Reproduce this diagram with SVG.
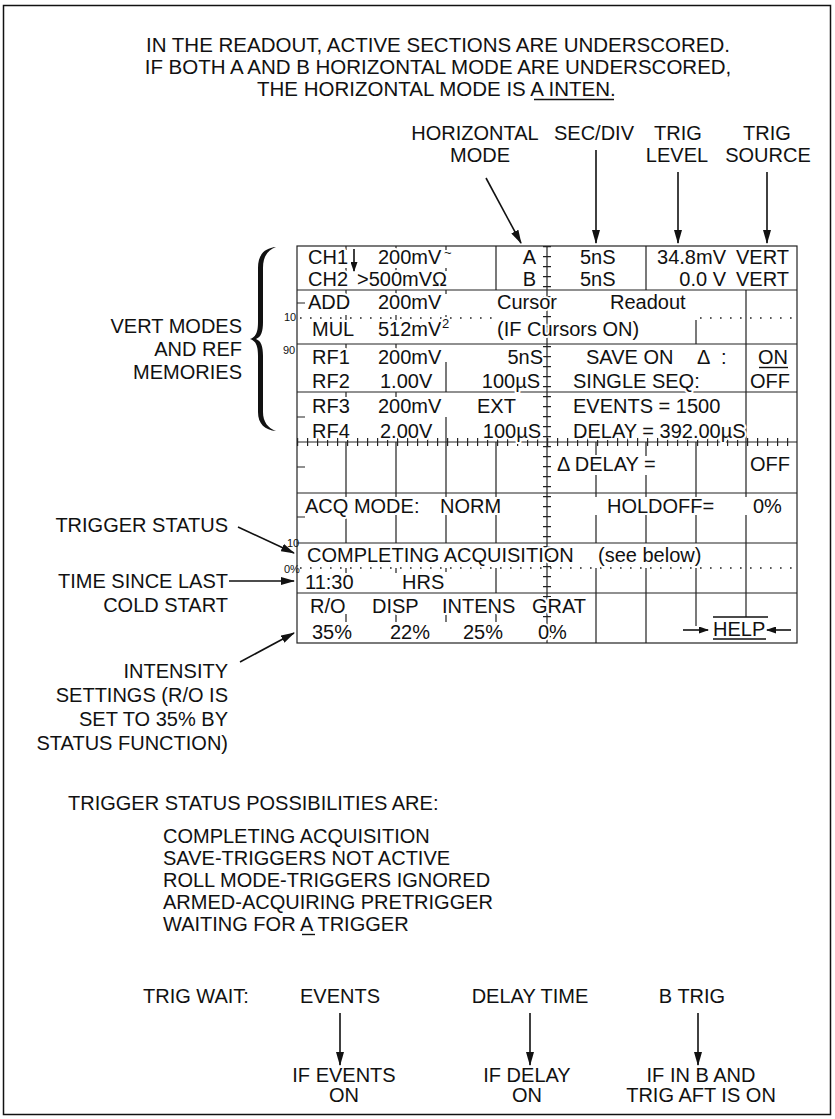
<svg xmlns="http://www.w3.org/2000/svg" width="835" height="1119" viewBox="0 0 835 1119">
<style>
text { font-family: "Liberation Sans", Arial, sans-serif; font-size: 20px; fill: #111; }
.t { font-size: 20.5px; }
.g { paint-order: stroke; stroke: #fff; stroke-width: 4px; stroke-linejoin: round; }
.sm { font-size: 11px; }
.sup { font-size: 13px; }
.e { text-anchor: end; }
.m { text-anchor: middle; }
.ln { stroke: #111; stroke-width: 1.4; fill: none; }
.gr { stroke: #222; stroke-width: 1.2; fill: none; }
.tk { stroke: #222; stroke-width: 8; stroke-dasharray: 1.2 8.8; fill: none; }
.dot { stroke: #222; stroke-width: 1.6; stroke-dasharray: 1.6 8.4; fill: none; }
.arr { stroke: #111; stroke-width: 1.6; fill: none; marker-end: url(#ah); }
.arrs { stroke: #111; stroke-width: 1.6; fill: none; marker-end: url(#ahs); }
</style>
<defs>
<marker id="ah" markerWidth="14" markerHeight="8" refX="13" refY="4" orient="auto" markerUnits="userSpaceOnUse"><path d="M0,0 L14,4 L0,8 Z" fill="#111"/></marker>
<marker id="ahs" markerWidth="10" markerHeight="7" refX="9" refY="3.5" orient="auto" markerUnits="userSpaceOnUse"><path d="M0,0 L10,3.5 L0,7 Z" fill="#111"/></marker>
</defs>
<rect x="0" y="0" width="835" height="1119" fill="#fff"/>
<rect id="frame" x="3.5" y="5.5" width="827" height="1109" fill="none" stroke="#111" stroke-width="1.5"/>

<g id="title">
<text class="m t" x="438" y="52">IN THE READOUT, ACTIVE SECTIONS ARE UNDERSCORED.</text>
<text class="m t" x="438" y="74">IF BOTH A AND B HORIZONTAL MODE ARE UNDERSCORED,</text>
<text class="t" x="257" y="96">THE HORIZONTAL MODE IS A INTEN.</text>
<path class="ln" d="M534 99.5 H614"/>
</g>

<g id="label-horizontal-mode"><text class="m" x="475" y="140">HORIZONTAL</text><text class="m" x="480" y="162">MODE</text></g>
<g id="label-sec-div"><text class="m" x="594" y="140">SEC/DIV</text></g>
<g id="label-trig-level"><text class="m" x="678" y="140">TRIG</text><text class="m" x="677" y="162">LEVEL</text></g>
<g id="label-trig-source"><text class="m" x="767" y="140">TRIG</text><text class="m" x="768" y="162">SOURCE</text></g>

<g id="label-vert-modes">
<text class="e" x="242" y="333">VERT MODES</text>
<text class="e" x="242" y="356">AND REF</text>
<text class="e" x="242" y="379">MEMORIES</text>
<path d="M 276 247 C 265 248, 258 254, 258 268 L 258 322 C 258 332, 256 337, 250 339 C 256 341, 258 346, 258 356 L 258 412 C 258 424, 265 430, 276 431 C 268 428, 263 422, 263 412 L 263 356 C 263 346, 261 341, 256 339 C 261 337, 263 332, 263 322 L 263 268 C 263 256, 268 250, 276 247 Z" fill="#111"/>
</g>

<g id="graticule">
<rect x="297" y="246" width="500" height="397" class="gr"/>
<path class="gr" d="M297 290 H797 M297 344 H797 M297 392 H797 M297 493 H797 M297 543 H797 M297 593 H797 M297 442 H797 M547 246 V643"/>
<line class="tk" x1="547" y1="246" x2="547" y2="643"/>
<line class="tk" x1="297" y1="442" x2="797" y2="442"/>
<path class="gr" d="M346 246 V250 M346 268 V271 M346 290 V294 M346 315 V321 M346 344 V349 M346 392 V397 M346 442 V497 M346 515 V543 M346 568 V573 M346 614 V622
M396 246 V250 M396 268 V271 M396 290 V294 M396 315 V321 M396 344 V349 M396 392 V397 M396 442 V497 M396 515 V543 M396 568 V573 M396 614 V622
M446 246 V250 M446 268 V271 M446 290 V294 M446 315 V321 M446 362 V392 M446 417 V497 M446 515 V543 M446 568 V572 M446 614 V622
M496 246 V290 M496 442 V497 M496 515 V543 M496 568 V593 M496 614 V622
M596 442 V456 M596 475 V497 M596 515 V543 M596 568 V643
M646 246 V290 M646 442 V456 M646 475 V497 M646 515 V543 M646 568 V643
M696 320 V344 M696 442 V497 M696 515 V543 M696 568 V626
M746 290 V497 M746 515 V617
M297 303 H305 M297 417 H305 M297 467 H305 M297 517 H305"/>
<path class="dot" d="M300 318 H492 M700 318 H792 M300 568 H794"/>
<text class="sm" x="284" y="321">10</text>
<text class="sm" x="283" y="354">90</text>
<text class="sm" x="287" y="547">10</text>
<text class="sm" x="284" y="573">0%</text>
</g>

<g id="readout">
<text class="g" x="308" y="264">CH1</text>
<path class="arrs" d="M354 249 V271"/>
<text class="g" x="378" y="264">200mV</text>
<text class="g sup" x="444" y="257">~</text>
<text class="g e" x="536" y="264">A</text>
<text class="g" x="580" y="264">5nS</text>
<text class="g e" x="726" y="264">34.8mV</text>
<text class="g" x="736" y="264">VERT</text>

<text class="g" x="308" y="286">CH2</text>
<text class="g" x="357" y="286">&gt;500mVΩ</text>
<text class="g e" x="536" y="286">B</text>
<text class="g" x="580" y="286">5nS</text>
<text class="g e" x="726" y="286">0.0 V</text>
<text class="g" x="736" y="286">VERT</text>

<text class="g" x="308" y="309">ADD</text>
<text class="g" x="378" y="309">200mV</text>
<text class="g" x="497" y="309">Cursor</text>
<text class="g" x="610" y="309">Readout</text>

<text class="g" x="312" y="336">MUL</text>
<text class="g" x="378" y="336">512mV</text>
<text class="g sup" x="442" y="328">2</text>
<text class="g" x="497" y="336">(IF Cursors ON)</text>

<text class="g" x="312" y="364">RF1</text>
<text class="g" x="378" y="364">200mV</text>
<text class="g e" x="543" y="364">5nS</text>
<text class="g" x="586" y="364">SAVE ON</text>
<text class="g" x="697" y="364">Δ</text>
<text class="g" x="721" y="364">:</text>
<text class="g e" x="788" y="364">ON</text>
<path class="ln" d="M759 367.5 H788"/>

<text class="g" x="312" y="388">RF2</text>
<text class="g" x="380" y="388">1.00V</text>
<text class="g e" x="540" y="388">100µS</text>
<text class="g" x="573" y="388">SINGLE SEQ:</text>
<text class="g e" x="790" y="388">OFF</text>

<text class="g" x="312" y="413">RF3</text>
<text class="g" x="378" y="413">200mV</text>
<text class="g" x="477" y="413">EXT</text>
<text class="g" x="573" y="413">EVENTS = 1500</text>

<text class="g" x="312" y="438">RF4</text>
<text class="g" x="380" y="438">2.00V</text>
<text class="g e" x="541" y="438">100µS</text>
<text class="g" x="573" y="438">DELAY = 392.00µS</text>

<text class="g" x="557" y="471">Δ DELAY =</text>
<text class="g e" x="790" y="471">OFF</text>

<text class="g" x="305" y="513">ACQ MODE:</text>
<text class="g" x="440" y="513">NORM</text>
<text class="g" x="607" y="513">HOLDOFF=</text>
<text class="g" x="753" y="513">0%</text>

<text class="g" x="307" y="562">COMPLETING ACQUISITION</text>
<text class="g" x="598" y="562">(see below)</text>

<text class="g" x="305" y="589">11:30</text>
<text class="g" x="402" y="589">HRS</text>

<text class="g" x="310" y="613">R/O</text>
<text class="g" x="372" y="613">DISP</text>
<text class="g" x="442" y="613">INTENS</text>
<text class="g" x="532" y="613">GRAT</text>

<text class="g" x="312" y="639">35%</text>
<text class="g" x="390" y="639">22%</text>
<text class="g" x="463" y="639">25%</text>
<text class="g" x="538" y="639">0%</text>
<text class="g" x="713" y="636">HELP</text>
<path class="ln" d="M713 617 H768 M713 639 H766"/>
<path class="arrs" d="M683 630 H708"/>
<path class="arrs" d="M791 630 H767"/>
</g>

<g id="label-trigger-status"><text class="e" x="228" y="532">TRIGGER STATUS</text></g>
<g id="label-time-since"><text class="e" x="228" y="588">TIME SINCE LAST</text><text class="e" x="228" y="612">COLD START</text></g>
<g id="label-intensity">
<text class="e" x="228" y="678">INTENSITY</text>
<text class="e" x="228" y="702">SETTINGS (R/O IS</text>
<text class="e" x="228" y="726">SET TO 35% BY</text>
<text class="e" x="228" y="750">STATUS FUNCTION)</text>
</g>

<g id="trigger-list">
<text x="68" y="810">TRIGGER STATUS POSSIBILITIES ARE:</text>
<text x="163" y="843">COMPLETING ACQUISITION</text>
<text x="163" y="865">SAVE-TRIGGERS NOT ACTIVE</text>
<text x="163" y="887">ROLL MODE-TRIGGERS IGNORED</text>
<text x="163" y="909">ARMED-ACQUIRING PRETRIGGER</text>
<text x="163" y="931">WAITING FOR A TRIGGER</text>
<path class="ln" d="M302 934.5 H315"/>
</g>

<g id="label-trig-wait"><text x="143" y="1003">TRIG WAIT:</text></g>
<g id="label-events"><text class="m" x="340" y="1003">EVENTS</text></g>
<g id="label-delay-time"><text class="m" x="530" y="1003">DELAY TIME</text></g>
<g id="label-b-trig"><text class="m" x="692" y="1003">B TRIG</text></g>
<g id="label-if-events"><text class="m" x="344" y="1082">IF EVENTS</text><text class="m" x="344" y="1102">ON</text></g>
<g id="label-if-delay"><text class="m" x="527" y="1082">IF DELAY</text><text class="m" x="527" y="1102">ON</text></g>
<g id="label-if-b"><text class="m" x="701" y="1082">IF IN B AND</text><text class="m" x="701" y="1102">TRIG AFT IS ON</text></g>

<g id="connectors">
<line class="arr" x1="486" y1="178" x2="521" y2="243"/>
<line class="arr" x1="596" y1="150" x2="596" y2="243"/>
<line class="arr" x1="678" y1="172" x2="678" y2="243"/>
<line class="arr" x1="767" y1="172" x2="767" y2="243"/>
<line class="arr" x1="238" y1="527" x2="294" y2="553"/>
<line class="arr" x1="229" y1="581" x2="294" y2="581"/>
<line class="arr" x1="240" y1="662" x2="294" y2="633"/>
<line class="arr" x1="340" y1="1013" x2="340" y2="1065"/>
<line class="arr" x1="530" y1="1013" x2="530" y2="1065"/>
<line class="arr" x1="698" y1="1013" x2="698" y2="1065"/>
</g>
</svg>
